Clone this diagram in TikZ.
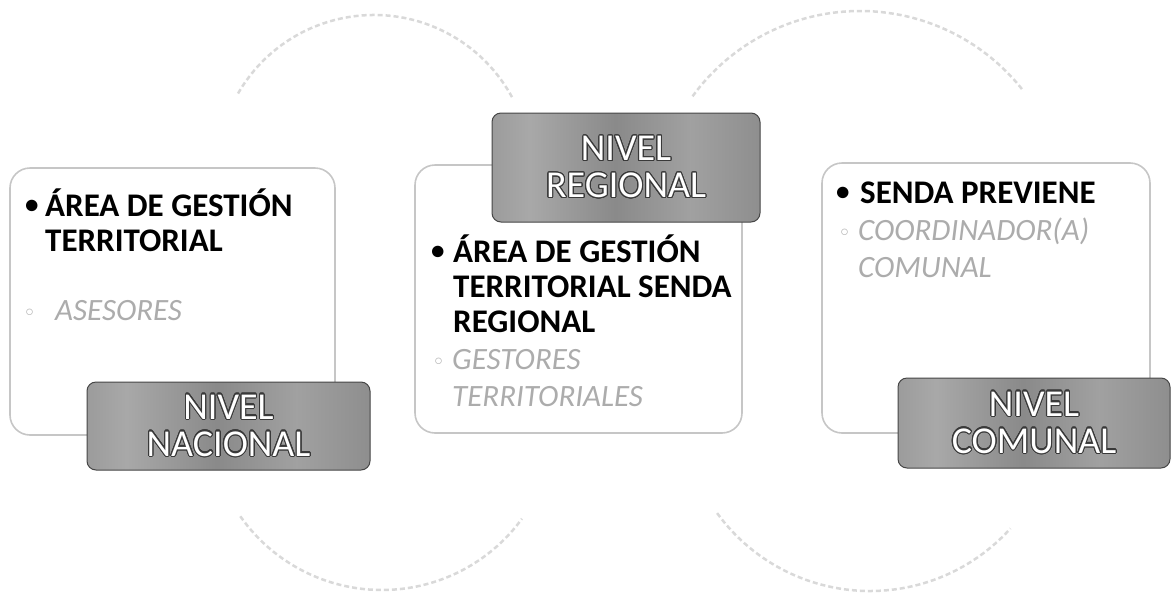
\documentclass[tikz,border=0pt]{standalone}
\usepackage{fontspec}
\setmainfont{Carlito}
\newfontfamily\symfont{DejaVu Sans}
\usepackage{tikz}
\usepackage{xcolor}
\usepackage[copies]{contour}
\contourlength{1.1pt}
\contournumber{20}
\usetikzlibrary{positioning}
\pgfdeclarehorizontalshading{streaks}{100bp}{rgb(0bp)=(.64,.64,.64); rgb(18bp)=(.56,.56,.56); rgb(32bp)=(.66,.66,.66); rgb(48bp)=(.54,.54,.54); rgb(62bp)=(.63,.63,.63); rgb(80bp)=(.53,.53,.53); rgb(100bp)=(.60,.60,.60)}
\tikzset{panel/.style = {draw=gray!45, line width=1.6pt, rounded corners=20pt, fill=white, inner sep=0pt}}
\tikzset{tag/.style = {draw=gray!55!black, line width=1pt, rounded corners=9pt, shading=streaks, inner sep=0pt, align=center, text=white, font=\fontsize{38}{37}\selectfont}}
\tikzset{head/.style = {anchor=base west, align=left, inner sep=0pt, font=\bfseries\fontsize{33}{35}\selectfont}}
\tikzset{sub/.style = {anchor=base west, align=left, inner sep=0pt, text=gray!65, font=\itshape\fontsize{31}{37}\selectfont}}
\tikzset{dot/.style = {anchor=base west, inner sep=0pt, font=\bfseries\fontsize{27}{27}\selectfont}}
\tikzset{ring/.style = {anchor=base west, inner sep=0pt, text=gray!60, font=\symfont\fontsize{22}{22}\selectfont}}
\tikzset{arcline/.style = {gray!30, line width=2.5pt, dash pattern=on 5pt off 3pt}}
\newcommand{\tagline}[1]{\contour{gray!45!black}{#1}}

\begin{document}
\begin{tikzpicture}[x=1pt, y=-1pt]
                \useasboundingbox (0,0) rectangle (1175,595);

                \draw[arcline] (374,172) ++(210:157) arc[start angle=210, end angle=332, radius=157];
                \draw[arcline] (860,218) ++(216:207) arc[start angle=216, end angle=322, radius=207];
                \draw[arcline] (382,417) ++(145:173) arc[start angle=145, end angle=36, radius=173];
                \draw[arcline] (870,402) ++(144:189) arc[start angle=144, end angle=42, radius=189];

                \node[panel, minimum width=325pt, minimum height=267pt] (nac) at (172.5,301.5) {};
                \node[panel, minimum width=327pt, minimum height=268pt] (reg) at (578.5,299) {};
                \node[panel, minimum width=328pt, minimum height=270pt] (com) at (986,298) {};

                \node[tag, minimum width=283pt, minimum height=88pt] (nacTag) at (228.5,426) {\tagline{NIVEL}\\\tagline{NACIONAL}};
                \node[tag, minimum width=268pt, minimum height=109pt] (regTag) at (626,167.5) {\tagline{NIVEL}\\\tagline{REGIONAL}};
                \node[tag, minimum width=272pt, minimum height=90pt] (comTag) at (1034,423) {\tagline{NIVEL}\\\tagline{COMUNAL}};

                \node[dot] (nacDot) at (25,213) {•};
                \node[head] (nacHead) at (45,251) {ÁREA DE GESTIÓN\\TERRITORIAL};
                \node[ring] (nacRing) at (23,320) {◦};
                \node[sub] (nacSub) at (55,320) {ASESORES};

                \node[dot] (regDot) at (431,259) {•};
                \node[head] (regHead) at (453,332) {ÁREA DE GESTIÓN\\TERRITORIAL SENDA\\REGIONAL};
                \node[ring] (regRing) at (432,369) {◦};
                \node[sub] (regSub) at (452,406) {GESTORES\\TERRITORIALES};

                \node[dot] (comDot) at (836,200) {•};
                \node[head] (comHead) at (860,203) {SENDA PREVIENE};
                \node[ring] (comRing) at (838,240) {◦};
                \node[sub] (comSub) at (858,277) {COORDINADOR(A)\\COMUNAL};
            \end{tikzpicture}
\end{document}
